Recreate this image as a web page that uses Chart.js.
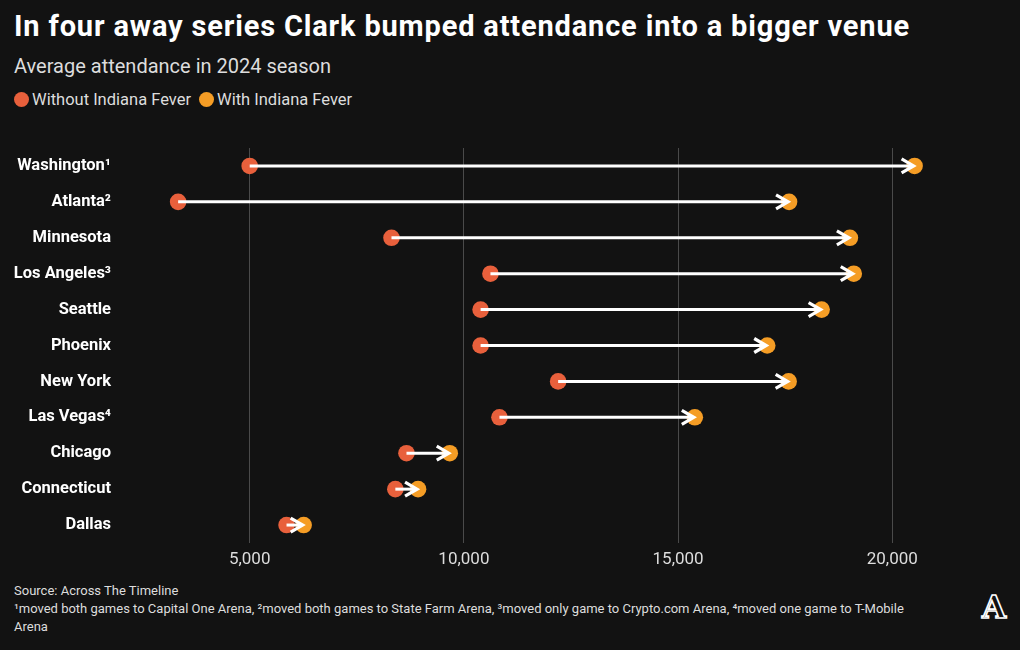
<!DOCTYPE html>
<html>
<head>
<meta charset="utf-8">
<script src="https://cdn.jsdelivr.net/npm/chart.js@4"></script>
<style>
  html, body { margin: 0; padding: 0; background: #121212; }
  body { width: 1020px; height: 650px; position: relative; overflow: hidden; font-family: Roboto, "Liberation Sans", sans-serif; }
  #title { position: absolute; left: 14px; top: 9px; color: #fff; font: bold 29px Roboto, "Liberation Sans", sans-serif; letter-spacing: 0.83px; white-space: nowrap; }
  #subtitle { position: absolute; left: 14px; top: 54px; color: #ddd; font: 20px Roboto, "Liberation Sans", sans-serif; white-space: nowrap; }
  #legend { position: absolute; left: 14px; top: 90px; color: #ddd; font: 16.5px Roboto, "Liberation Sans", sans-serif; display: flex; align-items: center; white-space: nowrap; }
  .dot { width: 15px; height: 15px; border-radius: 50%; display: inline-block; margin-right: 3px; }
  .item { display: flex; align-items: center; margin-right: 8px; }
  #wrap { position: absolute; left: 0; top: 130px; width: 1020px; height: 450px; }
  #c { display: block; width: 1020px; height: 450px; }
  #footer { position: absolute; left: 14px; top: 582px; color: #ddd; font: 13px Roboto, "Liberation Sans", sans-serif; line-height: 18px; white-space: nowrap; }
  #logo { position: absolute; left: 982px; top: 589px; color: #121212; -webkit-text-stroke: 1.6px #fff; font: bold 31px "DejaVu Serif", serif; }
</style>
</head>
<body>
<div id="title">In four away series Clark bumped attendance into a bigger venue</div>
<div id="subtitle">Average attendance in 2024 season</div>
<div id="legend">
  <span class="item"><span class="dot" style="background:#e8603c"></span>Without Indiana Fever</span>
  <span class="item"><span class="dot" style="background:#f59d25"></span>With Indiana Fever</span>
</div>
<div id="wrap"><canvas id="c" width="1020" height="450"></canvas></div>
<div id="footer">Source: Across The Timeline<br>¹moved both games to Capital One Arena, ²moved both games to State Farm Arena, ³moved only game to Crypto.com Arena, ⁴moved one game to T-Mobile<br>Arena</div>
<div id="logo">A</div>
<script>
const categories = ['Washington¹', 'Atlanta²', 'Minnesota', 'Los Angeles³', 'Seattle', 'Phoenix', 'New York', 'Las Vegas⁴', 'Chicago', 'Connecticut', 'Dallas'];
const withoutFever = [5000, 3330, 8310, 10620, 10390, 10390, 12200, 10830, 8660, 8400, 5860];
const withFever = [20520, 17590, 19010, 19100, 18350, 17080, 17580, 15390, 9670, 8930, 6260];
const xTicks = [5000, 10000, 15000, 20000];

const RED = '#e8603c';
const ORANGE = '#f59d25';

const arrowPlugin = {
  id: 'arrows',
  afterDatasetsDraw(chart) {
    const ctx = chart.ctx;
    const xs = chart.scales.x, ys = chart.scales.y;
    ctx.save();
    ctx.strokeStyle = '#ffffff';
    categories.forEach((c, i) => {
      const x1 = xs.getPixelForValue(withoutFever[i]);
      const x2 = xs.getPixelForValue(withFever[i]);
      const y = ys.getPixelForValue(i);
      ctx.lineWidth = 3;
      ctx.lineCap = 'butt';
      ctx.beginPath();
      ctx.moveTo(x1, y);
      ctx.lineTo(x2 - 2, y);
      ctx.stroke();
      ctx.lineWidth = 3.2;
      ctx.lineJoin = 'miter';
      ctx.beginPath();
      ctx.moveTo(x2 - 13, y - 7);
      ctx.lineTo(x2 - 1, y);
      ctx.lineTo(x2 - 13, y + 7);
      ctx.stroke();
    });
    ctx.restore();
  }
};

new Chart(document.getElementById('c'), {
  type: 'line',
  data: {
    labels: categories,
    datasets: [
      { label: 'Without Indiana Fever', data: withoutFever, showLine: false, pointRadius: 8.3, pointHoverRadius: 8.3, pointBackgroundColor: RED, pointBorderWidth: 0, borderColor: RED },
      { label: 'With Indiana Fever', data: withFever, showLine: false, pointRadius: 8.3, pointHoverRadius: 8.3, pointBackgroundColor: ORANGE, pointBorderWidth: 0, borderColor: ORANGE }
    ]
  },
  options: {
    indexAxis: 'y',
    responsive: false,
    animation: false,
    devicePixelRatio: 1,
    layout: { padding: { top: 18, right: 42, bottom: 11, left: 0 } },
    plugins: { legend: { display: false }, tooltip: { enabled: false } },
    scales: {
      x: {
        type: 'linear',
        min: 3000,
        max: 22000,
        afterBuildTicks: (s) => { s.ticks = xTicks.map(v => ({ value: v })); },
        afterFit: (s) => { s.height = 26; s.paddingLeft = 0; s.paddingRight = 0; },
        grid: { color: '#4a4a4a', lineWidth: 1, drawTicks: false },
        border: { display: false },
        ticks: {
          color: '#ddd',
          padding: 7,
          font: { family: 'Roboto', size: 17 },
          callback: (v) => v.toLocaleString('en-US')
        }
      },
      y: {
        type: 'category',
        offset: true,
        afterFit: (s) => { s.width = 164; s.paddingTop = 0; s.paddingBottom = 0; },
        grid: { display: false, drawTicks: false },
        border: { display: false },
        ticks: {
          color: '#fff',
          padding: 53,
          font: { family: 'Roboto', size: 16.5, weight: 'bold' }
        }
      }
    }
  },
  plugins: [arrowPlugin]
});
</script>
</body>
</html>
